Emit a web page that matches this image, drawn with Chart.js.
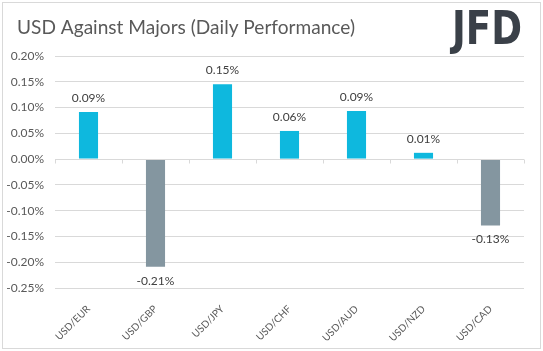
<!DOCTYPE html>
<html><head><meta charset="utf-8">
<script src="https://cdn.jsdelivr.net/npm/chart.js@4/dist/chart.umd.min.js"></script>
<style>html,body{margin:0;padding:0;background:#fff}#wrap{width:543px;height:351px;position:relative}</style>
</head><body><div id="wrap"><canvas id="c" width="543" height="351"></canvas></div>
<script>
const categories = ["USD/EUR","USD/GBP","USD/JPY","USD/CHF","USD/AUD","USD/NZD","USD/CAD"];
const values = [0.0913, -0.209, 0.145, 0.0546, 0.0932, 0.0122, -0.129];
const valueLabels = ["0.09%","-0.21%","0.15%","0.06%","0.09%","0.01%","-0.13%"];
const yMin = -0.25, yMax = 0.20, yStep = 0.05;
const titleText = "USD Against Majors (Daily Performance)";
const logoText = "JFD";

const POS = "#0EB8DE", NEG = "#8496A0";
const FONT = "Lato, 'Open Sans', sans-serif";

const decor = {
  id: "decor",
  afterDraw(chart) {
    const ctx = chart.ctx;
    ctx.save();
    // outer border
    ctx.strokeStyle = "#d9d9d9"; ctx.lineWidth = 1;
    ctx.strokeRect(2.5, 2.5, 538, 346);
    // title
    ctx.fillStyle = "#595959";
    ctx.font = "19px " + FONT;
    ctx.textBaseline = "alphabetic"; ctx.textAlign = "left";
    const tw = ctx.measureText(titleText).width;
    ctx.save(); ctx.translate(17, 33.5); ctx.scale(338 / tw, 1);
    ctx.fillText(titleText, 0, 0); ctx.restore();
    // logo
    ctx.fillStyle = "#3a4048";
    ctx.font = "bold 47px 'DejaVu Sans', sans-serif";
    const lw = ctx.measureText(logoText).width;
    ctx.save(); ctx.translate(452, 44); ctx.scale(70 / lw, 1);
    ctx.fillText(logoText, 0, 0); ctx.restore();
    // axis tick marks at zero line
    const xs = chart.scales.x, ys = chart.scales.y;
    const y0 = Math.round(ys.getPixelForValue(0)) + 0.5;
    ctx.strokeStyle = "#d9d9d9";
    ctx.beginPath();
    ctx.moveTo(xs.left, y0); ctx.lineTo(xs.right, y0);
    for (let i = 0; i <= categories.length; i++) {
      const x = Math.round(xs.getPixelForValue(i - 0.5)) + 0.5;
      ctx.moveTo(x, y0); ctx.lineTo(x, y0 + 4);
    }
    ctx.stroke();
    // data labels
    const meta = chart.getDatasetMeta(0);
    ctx.fillStyle = "#404040";
    ctx.font = "12px " + FONT;
    ctx.textAlign = "center"; ctx.textBaseline = "middle";
    meta.data.forEach((bar, i) => {
      const v = values[i];
      const y = v >= 0 ? bar.y - 14 : bar.y + 14;
      ctx.fillText(valueLabels[i], bar.x, y);
    });
    ctx.restore();
  }
};

new Chart(document.getElementById("c"), {
  type: "bar",
  data: {
    labels: categories,
    datasets: [{
      data: values,
      backgroundColor: values.map(v => v >= 0 ? POS : NEG),
      borderWidth: 0,
      categoryPercentage: 1,
      barPercentage: 0.285
    }]
  },
  plugins: [decor],
  options: {
    responsive: false,
    animation: false,
    devicePixelRatio: 1,
    layout: { padding: { top: 56, left: 0, right: 19, bottom: 0 } },
    plugins: { legend: { display: false }, tooltip: { enabled: false } },
    scales: {
      y: {
        min: yMin, max: yMax,
        ticks: {
          stepSize: yStep,
          color: "#595959",
          font: { family: FONT, size: 12 },
          padding: 11,
          callback: v => (Math.round(v * 100) / 100).toFixed(2) + "%"
        },
        grid: { color: "#d9d9d9", drawTicks: false },
        border: { display: false },
        afterFit(s) { s.width = 55; }
      },
      x: {
        ticks: {
          color: "#595959",
          font: { family: FONT, size: 10 },
          minRotation: 45, maxRotation: 45,
          padding: 7
        },
        grid: { display: false },
        border: { display: false },
        afterFit(s) { s.height = 63; }
      }
    }
  }
});
</script>
</body></html>
